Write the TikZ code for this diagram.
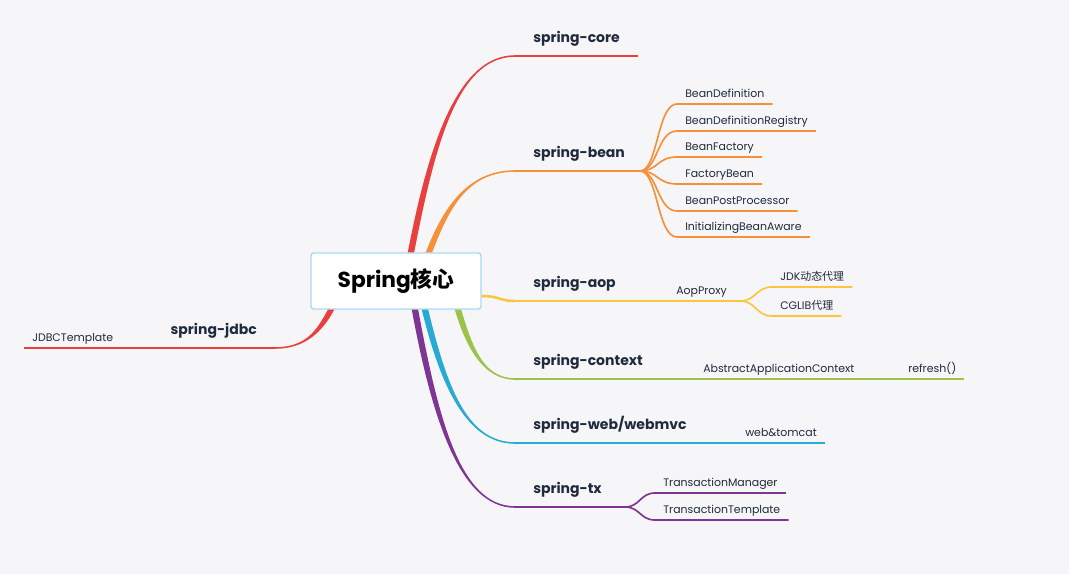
\documentclass[tikz,border=0pt]{standalone}
\usepackage{fontspec}
\setmainfont{Poppins}
\newfontfamily\cjk{Noto Sans CJK SC}
\usetikzlibrary{positioning,calc}

\definecolor{bgcol}{HTML}{F6F6F8}
\definecolor{inkcol}{HTML}{1F2A3C}
\definecolor{rootline}{HTML}{A9D9F3}
\definecolor{corered}{HTML}{E9403F}
\definecolor{beanorange}{HTML}{F5913A}
\definecolor{aopyellow}{HTML}{FBC53F}
\definecolor{ctxgreen}{HTML}{9DC24A}
\definecolor{webblue}{HTML}{27AAD3}
\definecolor{txpurple}{HTML}{7F3593}

\tikzset{
  rootbox/.style={draw=rootline, line width=1.1pt, fill=white, rounded corners=2pt,
    minimum width=127.5pt, minimum height=42pt, inner sep=0pt,
    font=\fontsize{16.3}{19}\selectfont\bfseries, text=black},
  branchlab/.style={inner xsep=13.5pt, inner ysep=7.6pt, text height=7.5pt, text depth=2.5pt,
    font=\fontsize{10.5}{12}\selectfont\bfseries, text=inkcol},
  leaf/.style={inner xsep=6pt, inner ysep=3.2pt, text height=6pt, text depth=1.8pt,
    font=\fontsize{8.2}{10}\selectfont, text=inkcol},
  twig/.style={line width=1.25pt},
}

% tapered limb from the root: colour, start, end, side (1 = turns up/left, -1 = turns down)
\newcommand{\limb}[4]{%
  \fill[#1] let \p1=(#2), \p2=(#3) in
    ({\x1-2.4pt},\y1)
      .. controls ({\x1-2.4pt+0.2*(\x2-\x1)},{\y1+0.55*(\y2-\y1)})
             and ({\x1+0.45*(\x2-\x1)},{\y2+(#4)*0.6pt}) ..
    (\x2,{\y2+(#4)*0.6pt})
    -- (\x2,{\y2-(#4)*0.6pt})
      .. controls ({\x1+0.45*(\x2-\x1)},{\y2-(#4)*0.6pt})
             and ({\x1+2.4pt+0.2*(\x2-\x1)},{\y1+0.55*(\y2-\y1)}) ..
    ({\x1+2.4pt},\y1) -- cycle;}

\begin{document}
\begin{tikzpicture}[x=0.75pt, y=-0.75pt]
  \useasboundingbox[fill=bgcol] (0,0) rectangle (1069,574);

  \node[rootbox] (root) at (396,281) {Spring{\cjk 核心}};

  % spring-core
  \coordinate (core) at (515,56);
  \limb{corered}{$(root.north)+(15,0)$}{core}{1}
  \node[branchlab, anchor=south west] (core-lab) at (core) {spring-core};
  \draw[twig, corered] (core) -- (core-lab.south east);

  % spring-bean
  \coordinate (bean) at (515,171);
  \coordinate (bean-fork) at (640,171);
  \limb{beanorange}{$(root.north)+(33,0)$}{bean}{1}
  \node[branchlab, anchor=south west] (bean-lab) at (bean) {spring-bean};
  \draw[twig, beanorange] (bean) -- (bean-fork);
  \foreach \y/\nm/\txt in {104/bd/BeanDefinition, 131/bdr/BeanDefinitionRegistry,
      157/bf/BeanFactory, 184/fb/FactoryBean, 211/bpp/BeanPostProcessor,
      237/iba/InitializingBeanAware} {
    \node[leaf, anchor=south west] (\nm) at (677,\y) {\txt};
    \draw[twig, beanorange] (bean-fork) .. controls +(18,0) and +(-20,0) .. (\nm.south west)
      -- (\nm.south east);
  }

  % spring-aop
  \coordinate (aop) at (515,301);
  \coordinate (aop-fork) at (740,301);
  \draw[aopyellow, line width=1.9pt] ($(root.east)+(0,15)$) .. controls +(18,0) and +(-16,0) .. (aop);
  \node[branchlab, anchor=south west] (aop-lab) at (aop) {spring-aop};
  \node[leaf, anchor=south west] (proxy) at (668,301) {AopProxy};
  \draw[twig, aopyellow] (aop) -- (aop-fork);
  \node[leaf, anchor=south west] (jdk) at (772,287) {JDK{\cjk 动态代理}};
  \node[leaf, anchor=south west] (cglib) at (772,316) {CGLIB{\cjk 代理}};
  \draw[twig, aopyellow] (aop-fork) .. controls +(16,0) and +(-16,0) .. (jdk.south west)
    -- (jdk.south east);
  \draw[twig, aopyellow] (aop-fork) .. controls +(16,0) and +(-16,0) .. (cglib.south west)
    -- (cglib.south east);

  % spring-context
  \coordinate (ctx) at (515,379);
  \limb{ctxgreen}{$(root.south)+(62,0)$}{ctx}{-1}
  \node[branchlab, anchor=south west] (ctx-lab) at (ctx) {spring-context};
  \node[leaf, anchor=south west] (aac) at (695,379) {AbstractApplicationContext};
  \node[leaf, anchor=south west] (refresh) at (900,379) {refresh()};
  \draw[twig, ctxgreen] (ctx) -- (refresh.south east);

  % spring-web/webmvc
  \coordinate (web) at (515,443);
  \limb{webblue}{$(root.south)+(29,0)$}{web}{-1}
  \node[branchlab, anchor=south west] (web-lab) at (web) {spring-web/webmvc};
  \node[leaf, anchor=south west] (tomcat) at (737,443) {web\&tomcat};
  \draw[twig, webblue] (web) -- (tomcat.south east);

  % spring-tx
  \coordinate (tx) at (515,507);
  \coordinate (tx-fork) at (625,507);
  \limb{txpurple}{$(root.south)+(19,0)$}{tx}{-1}
  \node[branchlab, anchor=south west] (tx-lab) at (tx) {spring-tx};
  \draw[twig, txpurple] (tx) -- (tx-fork);
  \node[leaf, anchor=south west] (tm) at (655,493) {TransactionManager};
  \node[leaf, anchor=south west] (tt) at (655,520) {TransactionTemplate};
  \draw[twig, txpurple] (tx-fork) .. controls +(15,0) and +(-15,0) .. (tm.south west)
    -- (tm.south east);
  \draw[twig, txpurple] (tx-fork) .. controls +(15,0) and +(-15,0) .. (tt.south west)
    -- (tt.south east);

  % spring-jdbc
  \coordinate (jdbc) at (275,348);
  \limb{corered}{$(root.south)+(-65,0)$}{jdbc}{1}
  \node[branchlab, anchor=south east] (jdbc-lab) at (jdbc) {spring-jdbc};
  \node[leaf, anchor=south west] (jdbct) at (24,348) {JDBCTemplate};
  \draw[twig, corered] (jdbc) -- (jdbct.south west);
\end{tikzpicture}
\end{document}
